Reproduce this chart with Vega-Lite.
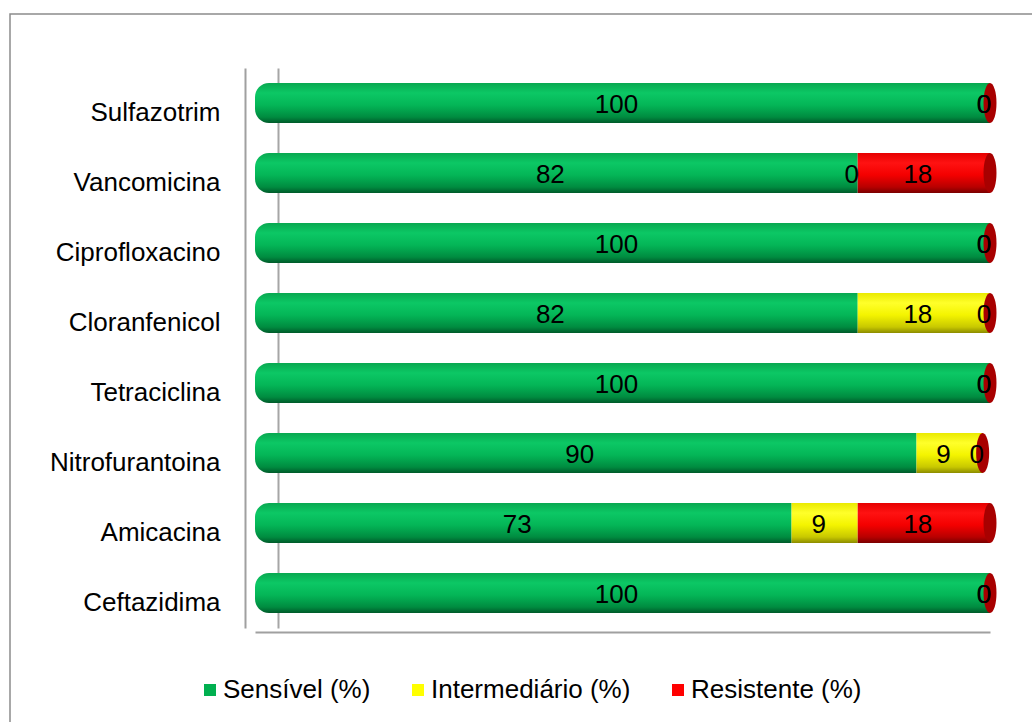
{
  "$schema": "https://vega.github.io/schema/vega-lite/v6.json",
  "width": 1025,
  "height": 711,
  "autosize": {"type": "none"},
  "padding": {"left": 10, "top": 14, "right": -3, "bottom": -3},
  "background": "white",
  "config": {
    "font": "Liberation Sans",
    "view": {"stroke": "#8c8c8c", "strokeWidth": 1.5},
    "axisX": {
      "orient": "bottom",
      "offset": -93,
      "labels": false,
      "ticks": false,
      "grid": false,
      "domainColor": "#a0a0a0",
      "domainWidth": 2,
      "zindex": 0
    }
  },
  "data": {
    "values": [
      {"drug": "Sulfazotrim", "cat": "Sensível (%)", "value": 100},
      {"drug": "Sulfazotrim", "cat": "Intermediário (%)", "value": 0},
      {"drug": "Sulfazotrim", "cat": "Resistente (%)", "value": 0},
      {"drug": "Vancomicina", "cat": "Sensível (%)", "value": 82},
      {"drug": "Vancomicina", "cat": "Intermediário (%)", "value": 0},
      {"drug": "Vancomicina", "cat": "Resistente (%)", "value": 18},
      {"drug": "Ciprofloxacino", "cat": "Sensível (%)", "value": 100},
      {"drug": "Ciprofloxacino", "cat": "Intermediário (%)", "value": 0},
      {"drug": "Ciprofloxacino", "cat": "Resistente (%)", "value": 0},
      {"drug": "Cloranfenicol", "cat": "Sensível (%)", "value": 82},
      {"drug": "Cloranfenicol", "cat": "Intermediário (%)", "value": 18},
      {"drug": "Cloranfenicol", "cat": "Resistente (%)", "value": 0},
      {"drug": "Tetraciclina", "cat": "Sensível (%)", "value": 100},
      {"drug": "Tetraciclina", "cat": "Intermediário (%)", "value": 0},
      {"drug": "Tetraciclina", "cat": "Resistente (%)", "value": 0},
      {"drug": "Nitrofurantoina", "cat": "Sensível (%)", "value": 90},
      {"drug": "Nitrofurantoina", "cat": "Intermediário (%)", "value": 9},
      {"drug": "Nitrofurantoina", "cat": "Resistente (%)", "value": 0},
      {"drug": "Amicacina", "cat": "Sensível (%)", "value": 73},
      {"drug": "Amicacina", "cat": "Intermediário (%)", "value": 9},
      {"drug": "Amicacina", "cat": "Resistente (%)", "value": 18},
      {"drug": "Ceftazidima", "cat": "Sensível (%)", "value": 100},
      {"drug": "Ceftazidima", "cat": "Intermediário (%)", "value": 0},
      {"drug": "Ceftazidima", "cat": "Resistente (%)", "value": 0}
    ]
  },
  "transform": [
    {"calculate": "indexof(['Sensível (%)', 'Intermediário (%)', 'Resistente (%)'], datum.cat)", "as": "ord"},
    {"stack": "value", "groupby": ["drug"], "sort": [{"field": "ord", "order": "ascending"}], "as": ["x0", "x1"]},
    {"calculate": "(datum.x0 + datum.x1) / 2", "as": "mid"}
  ],
  "resolve": {"axis": {"y": "independent"}},
  "layer": [
    {
      "mark": {"type": "bar", "opacity": 0},
      "encoding": {
        "y": {
          "field": "drug", "type": "nominal",
          "sort": ["Sulfazotrim", "Vancomicina", "Ciprofloxacino", "Cloranfenicol", "Tetraciclina", "Nitrofurantoina", "Amicacina", "Ceftazidima"],
          "scale": {"range": [54, 614], "paddingInner": 0.4286, "paddingOuter": 0.2143},
          "axis": {
            "orient": "left",
            "offset": -235,
            "title": null,
            "ticks": false,
            "tickSize": 0,
            "labelPadding": 25,
            "labelFontSize": 26,
            "labelColor": "#000000",
            "labelOffset": 10,
            "domainColor": "#a0a0a0",
            "domainWidth": 2,
            "zindex": 0
          }
        },
        "x": {"field": "x0", "type": "quantitative", "scale": {"domain": [0, 100], "range": [245, 980]}, "axis": {"title": null}},
        "x2": {"field": "x1"},
        "color": {
          "field": "cat", "type": "nominal",
          "scale": {"domain": ["Sensível (%)", "Intermediário (%)", "Resistente (%)"], "range": ["#00b050", "#ffff00", "#ff0000"]},
          "legend": {
            "title": null,
            "orient": "none",
            "direction": "horizontal",
            "legendX": 187,
            "legendY": 663,
            "padding": 0,
            "symbolType": "square",
            "symbolSize": 144,
            "symbolStrokeWidth": 0,
            "symbolOpacity": 1,
            "labelFontSize": 26,
            "labelColor": "#000000",
            "labelOffset": 0,
            "labelLimit": 0,
            "columnPadding": 34
          }
        }
      }
    },
    {
      "transform": [{"filter": "datum.ord === 0"}],
      "mark": {
        "type": "bar",
        "cornerRadiusTopLeft": 14,
        "cornerRadiusBottomLeft": 14,
        "fill": {"gradient": "linear", "x1": 0, "y1": 0, "x2": 0, "y2": 1,
          "stops": [
            {"offset": 0, "color": "#08a850"},
            {"offset": 0.25, "color": "#0cc865"},
            {"offset": 0.55, "color": "#04b657"},
            {"offset": 0.85, "color": "#008c40"},
            {"offset": 1, "color": "#005a2a"}
          ]}
      },
      "encoding": {
        "y": {"field": "drug", "type": "nominal", "sort": ["Sulfazotrim", "Vancomicina", "Ciprofloxacino", "Cloranfenicol", "Tetraciclina", "Nitrofurantoina", "Amicacina", "Ceftazidima"], "axis": null},
        "x": {"field": "x0", "type": "quantitative", "axis": {"title": null}},
        "x2": {"field": "x1"}
      }
    },
    {
      "transform": [{"filter": "datum.ord === 1"}],
      "mark": {
        "type": "bar",
        "fill": {"gradient": "linear", "x1": 0, "y1": 0, "x2": 0, "y2": 1,
          "stops": [
            {"offset": 0, "color": "#eaea00"},
            {"offset": 0.25, "color": "#ffff2a"},
            {"offset": 0.55, "color": "#f4f400"},
            {"offset": 0.85, "color": "#c8c800"},
            {"offset": 1, "color": "#8c8c00"}
          ]}
      },
      "encoding": {
        "y": {"field": "drug", "type": "nominal", "sort": ["Sulfazotrim", "Vancomicina", "Ciprofloxacino", "Cloranfenicol", "Tetraciclina", "Nitrofurantoina", "Amicacina", "Ceftazidima"], "axis": null},
        "x": {"field": "x0", "type": "quantitative", "axis": {"title": null}},
        "x2": {"field": "x1"}
      }
    },
    {
      "transform": [{"filter": "datum.ord === 2"}],
      "mark": {
        "type": "bar",
        "fill": {"gradient": "linear", "x1": 0, "y1": 0, "x2": 0, "y2": 1,
          "stops": [
            {"offset": 0, "color": "#e60000"},
            {"offset": 0.25, "color": "#ff1212"},
            {"offset": 0.55, "color": "#f40000"},
            {"offset": 0.85, "color": "#b80000"},
            {"offset": 1, "color": "#7a0000"}
          ]}
      },
      "encoding": {
        "y": {"field": "drug", "type": "nominal", "sort": ["Sulfazotrim", "Vancomicina", "Ciprofloxacino", "Cloranfenicol", "Tetraciclina", "Nitrofurantoina", "Amicacina", "Ceftazidima"], "axis": null},
        "x": {"field": "x0", "type": "quantitative", "axis": {"title": null}},
        "x2": {"field": "x1"}
      }
    },
    {
      "transform": [{"filter": "datum.ord === 2"}],
      "mark": {
        "type": "point",
        "shape": "M0,-1C0.18,-1 0.325,-0.55 0.325,0C0.325,0.55 0.18,1 0,1C-0.18,1 -0.325,0.55 -0.325,0C-0.325,-0.55 -0.18,-1 0,-1Z",
        "size": 1600,
        "filled": true,
        "fill": "#a80000",
        "strokeWidth": 0,
        "opacity": 1
      },
      "encoding": {
        "y": {"field": "drug", "type": "nominal", "sort": ["Sulfazotrim", "Vancomicina", "Ciprofloxacino", "Cloranfenicol", "Tetraciclina", "Nitrofurantoina", "Amicacina", "Ceftazidima"], "axis": null},
        "x": {"field": "x1", "type": "quantitative", "axis": {"title": null}}
      }
    },
    {
      "mark": {"type": "text", "fontSize": 26, "fill": "#000000", "align": "center", "baseline": "middle", "dx": -6, "dy": 2},
      "encoding": {
        "y": {"field": "drug", "type": "nominal", "sort": ["Sulfazotrim", "Vancomicina", "Ciprofloxacino", "Cloranfenicol", "Tetraciclina", "Nitrofurantoina", "Amicacina", "Ceftazidima"], "axis": null},
        "x": {"field": "mid", "type": "quantitative", "axis": {"title": null}},
        "text": {"field": "value", "type": "quantitative"}
      }
    },
    {
      "mark": {"type": "point", "opacity": 0},
      "encoding": {
        "y": {
          "field": "drug", "type": "nominal",
          "sort": ["Sulfazotrim", "Vancomicina", "Ciprofloxacino", "Cloranfenicol", "Tetraciclina", "Nitrofurantoina", "Amicacina", "Ceftazidima"],
          "axis": {"orient": "left", "offset": -268, "title": null, "labels": false, "ticks": false, "domainColor": "#a6a6a6", "domainWidth": 2, "zindex": 0}
        },
        "x": {"field": "x0", "type": "quantitative", "axis": {"title": null}}
      }
    }
  ]
}
